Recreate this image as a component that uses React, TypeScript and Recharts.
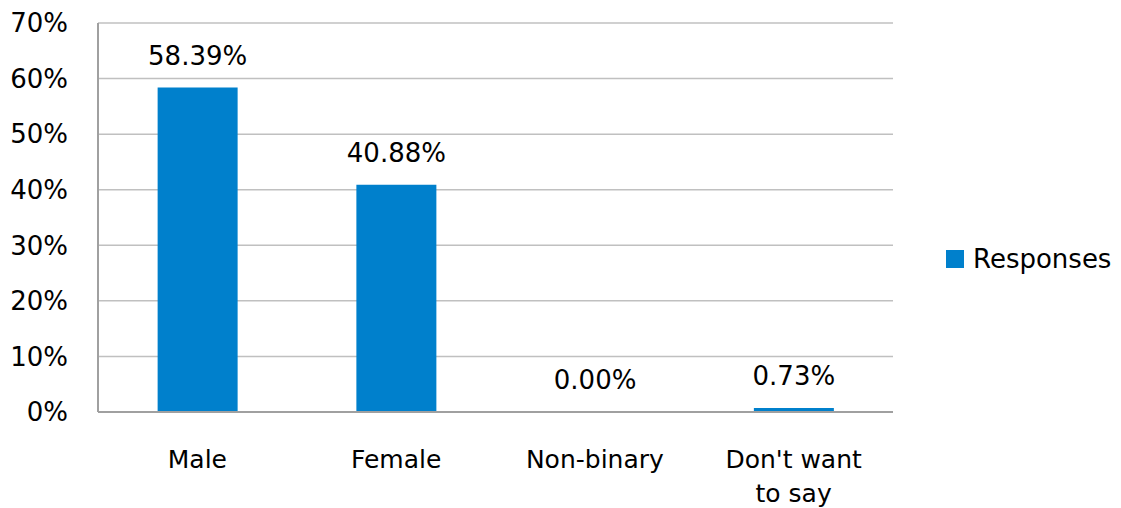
import React from 'react';
import { BarChart, Bar, XAxis, YAxis, CartesianGrid, Legend, LabelList } from 'recharts';

const categories = ['Male', 'Female', 'Non-binary', "Don't want to say"];
const responses = [58.39, 40.88, 0.0, 0.73];
const yTicks = [0, 10, 20, 30, 40, 50, 60, 70];

const chartData = categories.map((name, i) => ({ name, responses: responses[i] }));

const FONT = '"DejaVu Sans", sans-serif';
const BLUE = '#0080cc';

// wraps long category names onto two lines like the original
const wrapLabel = (label: string, maxChars = 10): string[] => {
  const words = label.split(' ');
  const lines: string[] = [];
  let cur = '';
  words.forEach((w) => {
    const next = cur ? `${cur} ${w}` : w;
    if (next.length > maxChars && cur) {
      lines.push(cur);
      cur = w;
    } else {
      cur = next;
    }
  });
  if (cur) lines.push(cur);
  return lines;
};

const CategoryTick = (props: any) => {
  const { x, y, payload } = props;
  const lines = wrapLabel(String(payload.value));
  return (
    <text x={x} y={y + 54} textAnchor="middle" fill="#000" fontSize={25} fontFamily={FONT}>
      {lines.map((line, i) => (
        <tspan key={i} x={x} dy={i === 0 ? 0 : 34}>
          {line}
        </tspan>
      ))}
    </text>
  );
};

// value label above each bar, drawn even when the value is zero
const ValueLabel = (props: any) => {
  const { x, y, width, value } = props;
  if (value === undefined || value === null) return null;
  return (
    <text x={x + width / 2} y={y - 23} textAnchor="middle" fill="#000" fontSize={26} fontFamily={FONT}>
      {`${Number(value).toFixed(2)}%`}
    </text>
  );
};

const LegendContent = () => (
  <div style={{ display: 'flex', alignItems: 'center', fontFamily: FONT, fontSize: 26, color: '#000' }}>
    <span style={{ display: 'inline-block', width: 18, height: 18, background: BLUE, marginRight: 9 }} />
    <span>Responses</span>
  </div>
);

export default function App() {
  return (
    <div style={{ position: 'absolute', left: 0, top: 0, background: '#fff' }}>
      <BarChart
        width={1121}
        height={508}
        data={chartData}
        margin={{ top: 23, right: 228, bottom: 66, left: 0 }}
        barCategoryGap="30%"
      >
        <CartesianGrid vertical={false} stroke="#c0c0c0" strokeWidth={1.5} />
        <XAxis
          dataKey="name"
          height={30}
          tick={<CategoryTick />}
          tickLine={false}
          tickSize={0}
          interval={0}
          stroke="#a0a0a0"
          strokeWidth={2}
        />
        <YAxis
          width={98}
          domain={[0, 70]}
          ticks={yTicks}
          tickFormatter={(v: number) => `${v}%`}
          tickLine={false}
          tickSize={0}
          tickMargin={30}
          stroke="#a0a0a0"
          strokeWidth={2}
          tick={{ fill: '#000', fontSize: 26, fontFamily: FONT }}
        />
        <Legend
          layout="vertical"
          align="center"
          verticalAlign="middle"
          wrapperStyle={{ left: 946, top: 244, width: 175 }}
          content={<LegendContent />}
        />
        <Bar
          dataKey="responses"
          name="Responses"
          fill={BLUE}
          minPointSize={(v: number) => (v === 0 ? 0.01 : 0)}
          isAnimationActive={false}
        >
          <LabelList dataKey="responses" content={<ValueLabel />} />
        </Bar>
      </BarChart>
    </div>
  );
}
